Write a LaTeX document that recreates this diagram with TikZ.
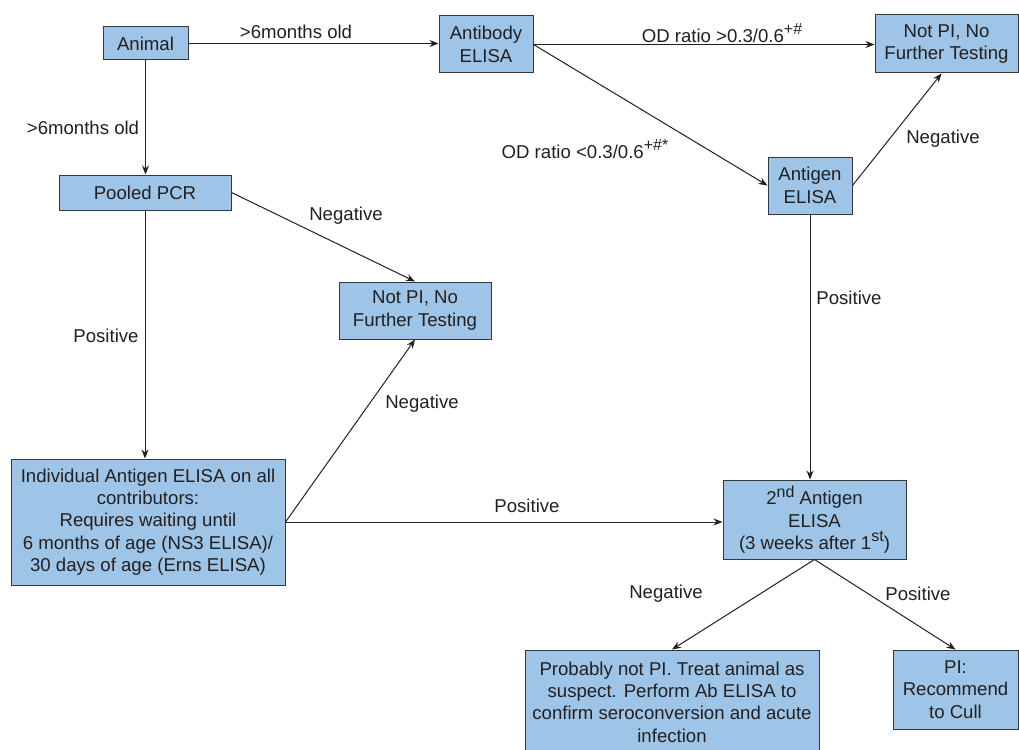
\documentclass[tikz,border=0pt]{standalone}
\usepackage{fontspec}
\setmainfont{Liberation Sans}
\usetikzlibrary{arrows.meta}
\definecolor{boxfill}{RGB}{158,197,232}
\definecolor{boxline}{RGB}{55,55,55}
\definecolor{txt}{RGB}{35,31,32}
\newcommand\mysup[1]{\raisebox{0.4em}{\fontsize{16}{16}\selectfont #1}}
\tikzset{
  box/.style={draw=boxline, line width=1pt, fill=boxfill, inner sep=0pt, align=center, text=txt, font=\fontsize{18.6}{22.3}\selectfont},
  lab/.style={inner sep=0pt, text=txt, font=\fontsize{18.6}{22.3}\selectfont},
  arr/.style={draw=txt, line width=1pt, -{Stealth[length=9pt,width=7pt]}}
}
\begin{document}
\begin{tikzpicture}[x=1pt,y=-1pt]
\useasboundingbox (0,0) rectangle (1019,749);
% boxes
\node[box, minimum width=85pt, minimum height=33pt] (animal) at (145.5,43.5) {Animal};
\node[box, minimum width=94pt, minimum height=57pt] (ab) at (486,44.5) {Antibody\\ELISA};
\node[box, minimum width=143pt, minimum height=58pt] (npitr) at (946.5,44) {Not PI, No\\Further Testing};
\node[box, minimum width=84pt, minimum height=57pt] (ag) at (810,185.5) {Antigen\\ELISA};
\node[box, minimum width=172pt, minimum height=35pt] (pcr) at (145,192.5) {Pooled PCR};
\node[box, minimum width=152pt, minimum height=57pt] (npm) at (415,310.5) {Not PI, No\\Further Testing};
\node[box, minimum width=274pt, minimum height=126pt] (ind) at (148,522) {Individual Antigen ELISA on all\\contributors:\\Requires waiting until\\6 months of age (NS3 ELISA)/\\30 days of age (Erns ELISA)};
\node[box, minimum width=183pt, minimum height=79pt] (ag2) at (814.5,519.5) {2\mysup{nd} Antigen\\ELISA\\(3 weeks after 1\mysup{st})};
\node[box, minimum width=294pt, minimum height=104pt] (prob) at (672,702) {Probably not PI. Treat animal as\\suspect. Perform Ab ELISA to\\confirm seroconversion and acute\\infection};
\node[box, minimum width=125pt, minimum height=79pt] (pi) at (955.5,689.5) {PI:\\Recommend\\to Cull};
% connectors
\draw[arr] (animal.east) -- (animal.east -| ab.west);
\draw[arr] (animal.south) -- (animal.south |- pcr.north);
\draw[arr] (ab.east) -- (ab.east -| npitr.west);
\draw[arr] (ab.east) -- (ag.west);
\draw[arr] (ag.east) -- ([xshift=-5pt]npitr.south);
\draw[arr] (ag.south) -- (ag.south |- ag2.north);
\draw[arr] (pcr.east) -- (npm.north);
\draw[arr] (pcr.south) -- (pcr.south |- ind.north);
\draw[arr] (ind.east) -- (npm.south);
\draw[arr] (ind.east) -- (ind.east -| ag2.west);
\draw[arr] (ag2.south) -- (prob.north);
\draw[arr] (ag2.south) -- (pi.north);
% labels
\node[lab] (l1) at (296,32) {>6months old};
\node[lab] (l2) at (83,128) {>6months old};
\node[lab] (l3) at (722,33) {OD ratio >0.3/0.6\mysup{+\#}};
\node[lab] (l4) at (585,149) {OD ratio <0.3/0.6\mysup{+\#*}};
\node[lab] (l5) at (943,139) {Negative};
\node[lab] (l6) at (849,298) {Positive};
\node[lab] (l7) at (346,216) {Negative};
\node[lab] (l8) at (106,336) {Positive};
\node[lab] (l9) at (422,404) {Negative};
\node[lab] (l10) at (527,506) {Positive};
\node[lab] (l11) at (666,594) {Negative};
\node[lab] (l12) at (918,594) {Positive};
\end{tikzpicture}
\end{document}
